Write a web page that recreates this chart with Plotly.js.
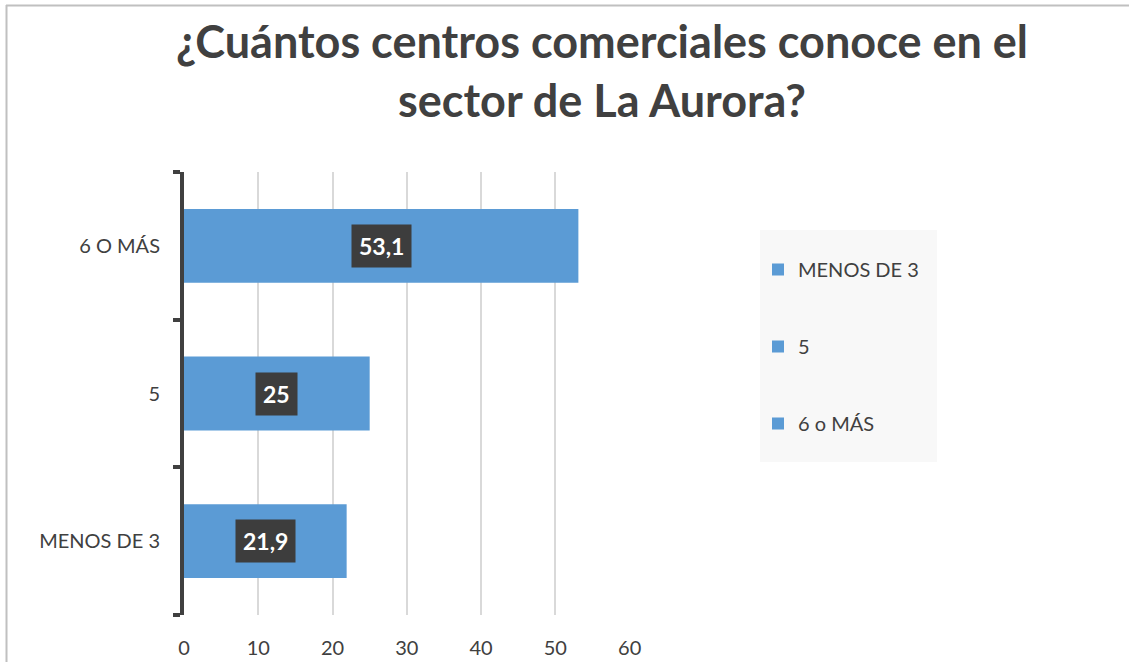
<!DOCTYPE html>
<html>
<head>
<meta charset="utf-8">
<script src="https://cdn.plot.ly/plotly-3.0.1.min.js"></script>
<style>html,body{margin:0;padding:0;background:#fff;}#chart{width:1129px;height:662px;}</style>
</head>
<body>
<div id="chart"></div>
<script>
// ---- data ----
var categories = ["MENOS DE 3", "5", "6 O MÁS"];
var legendNames = ["MENOS DE 3", "5", "6 o MÁS"];
var values = [21.9, 25, 53.1];
var xTicks = [0, 10, 20, 30, 40, 50, 60];
var titleText = "¿Cuántos centros comerciales conoce en el<br>sector de La Aurora?";

// ---- layout geometry ----
var W = 1129, H = 662;
var M = {l: 184, r: W - 630, t: 172, b: H - 615};
var pw = W - M.l - M.r, ph = H - M.t - M.b;
function px(x) { return (x - M.l) / pw; }
function py(y) { return (H - M.b - y) / ph; }

var FONT = "Lato, 'Open Sans', sans-serif";
var TXT = "#404040";
var BAR = "#5B9BD5";

var traces = categories.map(function (c, i) {
  return {
    type: "bar",
    orientation: "h",
    y: [c],
    x: [values[i]],
    name: legendNames[i],
    legendgroup: "g" + i,
    width: 0.5,
    marker: {color: BAR},
    hoverinfo: "x+y"
  };
});

var annotations = categories.map(function (c, i) {
  return {
    x: values[i] / 2, y: i, xref: "x", yref: "y",
    text: "<b>" + String(values[i]).replace(".", ",") + "</b>",
    showarrow: false,
    font: {family: FONT, size: 23, color: "#ffffff"},
    bgcolor: "#3d3d3d",
    borderpad: 7,
    xanchor: "center", yanchor: "middle"
  };
});

var shapes = [
  // outer chart frame (top + left)
  {type: "line", xref: "paper", yref: "paper", x0: px(6), x1: px(W), y0: py(5.5), y1: py(5.5),
   line: {color: "#c0c0c0", width: 2}},
  {type: "line", xref: "paper", yref: "paper", x0: px(6.5), x1: px(6.5), y0: py(5), y1: py(H),
   line: {color: "#c0c0c0", width: 2}},
  // legend background
  {type: "rect", xref: "paper", yref: "paper", x0: px(760), x1: px(937), y0: py(230), y1: py(462),
   fillcolor: "#f8f8f8", line: {width: 0}, layer: "below"}
];

var layout = {
  width: W, height: H,
  margin: M,
  paper_bgcolor: "rgba(0,0,0,0)",
  plot_bgcolor: "rgba(0,0,0,0)",
  barmode: "overlay",
  title: {
    text: "<b>" + titleText + "</b>",
    font: {family: FONT, size: 45, color: TXT},
    xref: "container", yref: "container",
    x: 602 / W, xanchor: "center",
    y: 1 - 58 / H, yanchor: "top"
  },
  xaxis: {
    range: [0, 60.05],
    tickvals: xTicks,
    ticktext: xTicks.map(String),
    showgrid: true, gridcolor: "#d9d9d9", gridwidth: 2,
    zeroline: false, showline: false,
    ticks: "",
    ticklabelstandoff: 19,
    tickfont: {family: FONT, size: 20, color: TXT},
    fixedrange: true
  },
  yaxis: {
    type: "category",
    categoryorder: "array", categoryarray: categories,
    range: [-0.5, 2.5],
    showgrid: false, zeroline: false,
    showline: true, linecolor: "#404040", linewidth: 4,
    ticks: "outside", tickson: "boundaries", ticklen: 7, tickwidth: 4, tickcolor: "#404040",
    ticklabelstandoff: 16,
    tickfont: {family: FONT, size: 20, color: TXT},
    fixedrange: true
  },
  showlegend: true,
  legend: {
    xref: "container", yref: "container",
    x: 758 / W, xanchor: "left",
    y: 1 - 250 / H, yanchor: "top",
    bgcolor: "rgba(0,0,0,0)",
    traceorder: "grouped",
    tracegroupgap: 48,
    font: {family: FONT, size: 20, color: TXT}
  },
  annotations: annotations,
  shapes: shapes
};

Plotly.newPlot("chart", traces, layout, {displayModeBar: false, staticPlot: true});
</script>
</body>
</html>
